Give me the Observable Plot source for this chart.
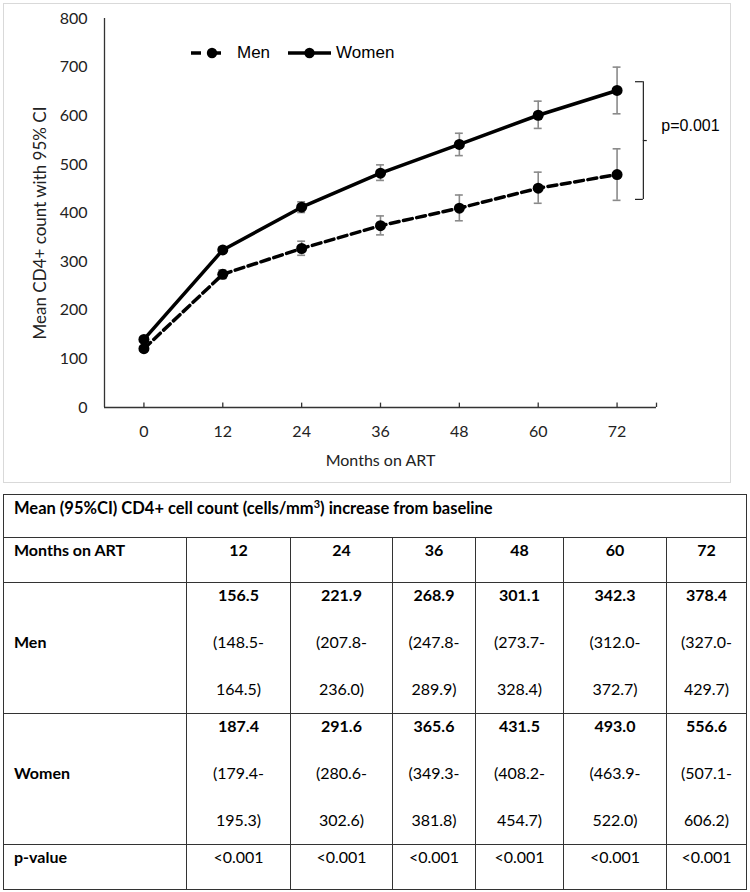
<!DOCTYPE html>
<html>
<head>
<meta charset="utf-8">
<script src="https://cdn.jsdelivr.net/npm/d3@7"></script>
<script src="https://cdn.jsdelivr.net/npm/@observablehq/plot@0.6"></script>
<style>
  html, body { margin: 0; padding: 0; background: #fff; }
  body { width: 750px; height: 892px; position: relative; overflow: hidden; font-family: Lato, sans-serif; }
  #box { position: absolute; left: 3px; top: 3px; width: 728px; height: 480px; border: 1.5px solid #d9d9d9; box-sizing: border-box; }
  #chart { position: absolute; left: 0; top: 0; }
  #legend { position: absolute; left: 191px; top: 42px; height: 22px; display: flex; align-items: center;
            font-family: "Liberation Sans", Arial, sans-serif; font-size: 17px; color: #000; }
  #legend svg { display: block; }
  #legend span { margin-left: 6px; margin-right: 18px; }
  table { position: absolute; left: 3px; top: 494px; width: 743px; border-collapse: collapse; table-layout: fixed;
          font-family: Lato, sans-serif; font-size: 16px; color: #000; }
  td { border: 1.5px solid #333; padding: 2px 0 0 0; vertical-align: top; line-height: 20px; text-align: center; }
  td.lab { text-align: left; padding-left: 10px; font-weight: bold; }
  tr.title td { text-align: left; padding-left: 10px; font-weight: bold; font-size: 16.5px; }
  sup { line-height: 0; font-size: 11px; vertical-align: 6px; }
  td .ln { height: 47px; }
  b { font-weight: bold; }
</style>
</head>
<body>
<div id="box"></div>
<div id="chart"></div>
<div id="legend"></div>
<table id="tbl"></table>
<script>
// ---------- chart data ----------
const months = [0, 12, 24, 36, 48, 60, 72];
const menMean   = [121, 274, 327, 374, 410, 451, 479];
const menLow    = [116, 265, 313, 355, 384, 420, 426];
const menHigh   = [126, 283, 342, 394, 437, 484, 532];
const womenMean = [140, 324, 412, 482, 541, 601, 652];
const womenLow  = [135, 318, 401, 467, 518, 574, 604];
const womenHigh = [145, 330, 423, 499, 564, 630, 700];
const yTicks = [0, 100, 200, 300, 400, 500, 600, 700, 800];
const seriesNames = ["Men", "Women"];
const yTitle = "Mean CD4+ count with 95% CI";
const xTitle = "Months on ART";
const pBracket = { label: "p=0.001", from: 428, to: 670 };

// ---------- table data ----------
const tableTitle = "Mean (95%CI) CD4+ cell count (cells/mm<sup>3</sup>) increase from baseline";
const tableHeaderLabel = "Months on ART";
const tableMonths = [12, 24, 36, 48, 60, 72];
const menIncrease = ["156.5", "221.9", "268.9", "301.1", "342.3", "378.4"];
const menCILow    = ["148.5", "207.8", "247.8", "273.7", "312.0", "327.0"];
const menCIHigh   = ["164.5", "236.0", "289.9", "328.4", "372.7", "429.7"];
const womenIncrease = ["187.4", "291.6", "365.6", "431.5", "493.0", "556.6"];
const womenCILow    = ["179.4", "280.6", "349.3", "408.2", "463.9", "507.1"];
const womenCIHigh   = ["195.3", "302.6", "381.8", "454.7", "522.0", "606.2"];
const pValues = ["<0.001", "<0.001", "<0.001", "<0.001", "<0.001", "<0.001"];

// ---------- build chart ----------
const men = months.map((m, i) => ({ month: m, mean: menMean[i], low: menLow[i], high: menHigh[i] }));
const women = months.map((m, i) => ({ month: m, mean: womenMean[i], low: womenLow[i], high: womenHigh[i] }));
const all = men.concat(women);
const xDomain = [months[0] - 6, months[months.length - 1] + 6];
const cap = 0.6;
const bracketX = months[months.length - 1] + 4;
const mid = (pBracket.from + pBracket.to) / 2;
const axisColor = "#333";
const errColor = "#8a8a8a";

const plot = Plot.plot({
  width: 750,
  height: 488,
  marginLeft: 104,
  marginRight: 94,
  marginTop: 18,
  marginBottom: 81,
  style: { fontFamily: "Lato, sans-serif", fontSize: "16px", color: "#222", background: "transparent", overflow: "visible" },
  x: { domain: xDomain, ticks: months, tickSize: 0, tickPadding: 18, label: null },
  y: { domain: [0, 800], ticks: yTicks, tickSize: 0, tickPadding: 17, label: null },
  marks: [
    Plot.ruleY([0], { stroke: axisColor, strokeWidth: 1.3 }),
    Plot.ruleX([xDomain[0]], { stroke: axisColor, strokeWidth: 1.3 }),
    Plot.ruleX(months.concat([xDomain[1]]), { y1: 0, y2: 9, stroke: axisColor, strokeWidth: 1.3 }),
    // error bars
    Plot.ruleX(all, { x: "month", y1: "low", y2: "high", stroke: errColor, strokeWidth: 1.6 }),
    Plot.ruleY(all, { y: "low", x1: d => d.month - cap, x2: d => d.month + cap, stroke: errColor, strokeWidth: 1.6 }),
    Plot.ruleY(all, { y: "high", x1: d => d.month - cap, x2: d => d.month + cap, stroke: errColor, strokeWidth: 1.6 }),
    // lines
    Plot.line(men, { x: "month", y: "mean", stroke: "#000", strokeWidth: 3.5, strokeDasharray: "9,4.5" }),
    Plot.line(women, { x: "month", y: "mean", stroke: "#000", strokeWidth: 3.5 }),
    Plot.dot(all, { x: "month", y: "mean", r: 5.5, fill: "#000", stroke: "none" }),
    // bracket annotation
    Plot.ruleX([pBracket], { x: bracketX, y1: "from", y2: "to", stroke: "#222", strokeWidth: 1.2 }),
    Plot.ruleY([pBracket.from, pBracket.to], { x1: bracketX - 1.2, x2: bracketX, stroke: "#222", strokeWidth: 1.2 }),
    Plot.ruleY([mid], { x1: bracketX, x2: bracketX + 0.6, stroke: "#222", strokeWidth: 1.2 }),
    Plot.text([pBracket], { x: bracketX, y: mid, text: "label", textAnchor: "start", dx: 18, dy: -15,
      fontFamily: "Liberation Sans, Arial, sans-serif", fontSize: 16, fill: "#000" }),
    // axis titles
    Plot.text([yTitle], { frameAnchor: "left", textAnchor: "middle", lineAnchor: "middle", rotate: -90, dx: -64, dy: 10, fontSize: 17, fill: "#222" }),
    Plot.text([xTitle], { frameAnchor: "bottom", textAnchor: "middle", lineAnchor: "middle", dy: 53, fontSize: 16, fill: "#222" })
  ]
});
document.getElementById("chart").appendChild(plot);

// ---------- legend ----------
const legend = document.getElementById("legend");
legend.innerHTML =
  `<svg width="40" height="12"><line x1="0" x2="40" y1="6" y2="6" stroke="#000" stroke-width="3.5" stroke-dasharray="10,11,9"/><circle cx="21" cy="6" r="5.2" fill="#000"/></svg><span>${seriesNames[0]}</span>` +
  `<svg width="43" height="12"><line x1="0" x2="43" y1="6" y2="6" stroke="#000" stroke-width="3.5"/><circle cx="21.5" cy="6" r="5.2" fill="#000"/></svg><span style="margin-left:5px">${seriesNames[1]}</span>`;

// ---------- table ----------
const colWidths = [183, 104, 102, 83, 88, 103, 80];
let html = "<colgroup>" + colWidths.map(w => `<col style="width:${w}px">`).join("") + "</colgroup>";
html += `<tr class="title" style="height:43px"><td colspan="7" style="padding-top:3px">${tableTitle}</td></tr>`;
html += `<tr style="height:45px"><td class="lab">${tableHeaderLabel}</td>` + tableMonths.map(m => `<td><b>${m}</b></td>`).join("") + "</tr>";
function dataRow(label, inc, lo, hi) {
  return `<tr style="height:131px"><td class="lab" style="padding-top:49px">${label}</td>` +
    inc.map((v, i) => `<td><div class="ln"><b>${v}</b></div><div class="ln">(${lo[i]}-</div><div>${hi[i]})</div></td>`).join("") + "</tr>";
}
html += dataRow(seriesNames[0], menIncrease, menCILow, menCIHigh);
html += dataRow(seriesNames[1], womenIncrease, womenCILow, womenCIHigh);
html += `<tr style="height:45px"><td class="lab">p-value</td>` + pValues.map(p => `<td>${p.replace("<", "&lt;")}</td>`).join("") + "</tr>";
document.getElementById("tbl").innerHTML = html;
</script>
</body>
</html>
